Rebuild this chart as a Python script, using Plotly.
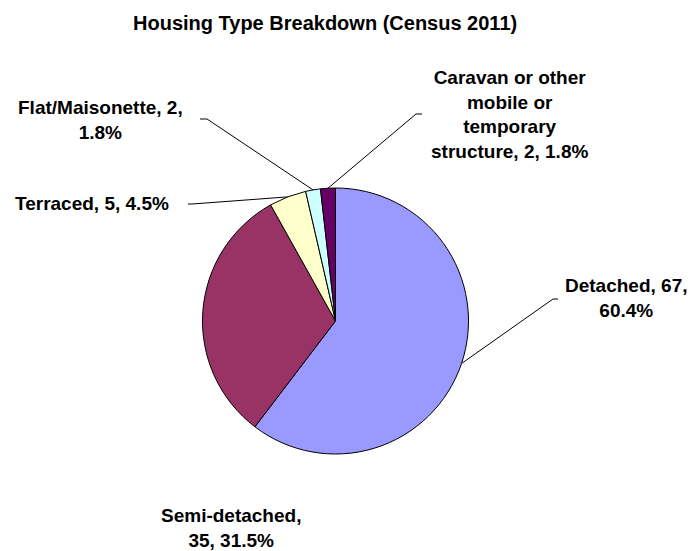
import math
import plotly.graph_objects as go

# ---- data ----
categories = ["Detached", "Semi-detached", "Terraced", "Flat/Maisonette",
              "Caravan or other mobile or temporary structure"]
values = [67, 35, 5, 2, 2]
percents = ["60.4%", "31.5%", "4.5%", "1.8%", "1.8%"]
label_texts = [
    "Detached, 67,<br>60.4%",
    "Semi-detached,<br>35, 31.5%",
    "Terraced, 5, 4.5%",
    "Flat/Maisonette, 2,<br>1.8%",
    "Caravan or other<br>mobile or<br>temporary<br>structure, 2, 1.8%",
]
colors = ["#9999FF", "#993366", "#FFFFCC", "#CCFFFF", "#660066"]
title_text = "Housing Type Breakdown (Census 2011)"

# ---- layout (pixels) ----
W, H = 691, 551
CX, CY, R = 335.5, 321.0, 133.0
FONT = "Liberation Sans, Arial, Helvetica, sans-serif"

# label centre positions (px) and leader start/elbow points (px) or None
label_pos = [(626, 298), (231, 528), (92, 204), (100, 120), (509, 115)]
leader_pts = [
    [(558, 299), (553, 299)],
    None,
    [(188, 204), (192, 204)],
    [(200, 119), (207, 119)],
    [(422, 114), (416, 114)],
]


def px(x):
    return x / W


def py(y):
    return 1 - y / H


fig = go.Figure(go.Pie(
    labels=categories,
    values=values,
    sort=False,
    direction="clockwise",
    rotation=0,
    textinfo="none",
    hoverinfo="label+value+percent",
    marker=dict(colors=colors, line=dict(color="#000000", width=1)),
    domain=dict(x=[px(CX - R), px(CX + R)], y=[py(CY + R), py(CY - R)]),
    showlegend=False,
))

# leader lines: end at the slice's mid-angle on the pie rim
total = sum(values)
cum = 0.0
shapes = []
annotations = []
for i, v in enumerate(values):
    mid = (cum + v / 2) / total * 2 * math.pi
    cum += v
    ex = CX + R * math.sin(mid)
    ey = CY - R * math.cos(mid)
    pts = leader_pts[i]
    if pts is not None:
        path_pts = pts + [(ex, ey)]
        path = "M " + " L ".join(f"{px(a):.5f},{py(b):.5f}" for a, b in path_pts)
        shapes.append(dict(type="path", xref="paper", yref="paper", path=path,
                           line=dict(color="#000000", width=1)))
    lx, ly = label_pos[i]
    annotations.append(dict(
        x=px(lx), y=py(ly), xref="paper", yref="paper",
        text=label_texts[i], showarrow=False, align="center",
        xanchor="center", yanchor="middle",
        font=dict(family=FONT, size=19, color="#000000", weight="bold"),
    ))

annotations.append(dict(
    x=px(325), y=py(23), xref="paper", yref="paper", text=title_text,
    showarrow=False, xanchor="center", yanchor="middle",
    font=dict(family=FONT, size=20, color="#000000", weight="bold"),
))

fig.update_layout(
    width=W, height=H,
    margin=dict(l=0, r=0, t=0, b=0),
    paper_bgcolor="#FFFFFF", plot_bgcolor="#FFFFFF",
    shapes=shapes, annotations=annotations,
)

fig.write_html(
    "out.html",
    config={"displayModeBar": False},
    post_script="document.body.style.margin='0';document.body.style.padding='0';"
                "document.body.style.overflow='hidden';",
)
